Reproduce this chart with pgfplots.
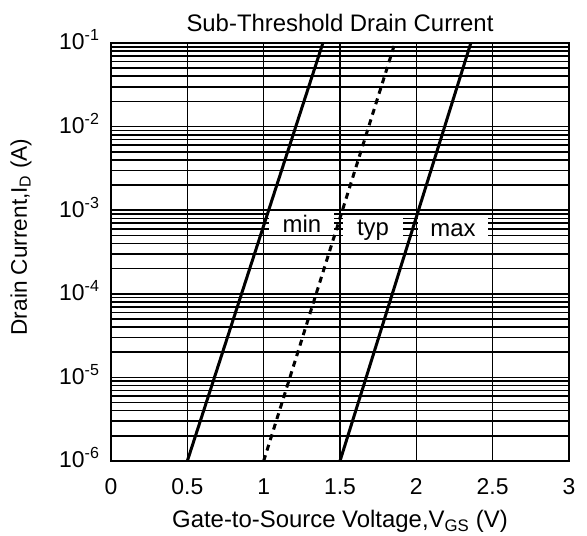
\documentclass[border=0pt]{standalone}
\usepackage{pgfplots}
\pgfplotsset{compat=1.18}
\usepackage{fontspec}
\setmainfont{Liberation Sans}
\newcommand{\tl}[1]{{\fontsize{23}{26}\selectfont #1}}
\begin{document}
\begin{tikzpicture}
\useasboundingbox (-111bp,-75bp) rectangle (476bp,461bp);
\begin{axis}[
  at={(0,0)}, anchor=south west,
  scale only axis, width=458bp, height=418bp,
  xmin=0, xmax=3, ymode=log, ymin=1e-6, ymax=1e-1,
  /pgf/number format/assume math mode=true,
  xtick={0,0.5,1,1.5,2,2.5,3},
  xticklabels={\tl{0},\tl{0.5},\tl{1},\tl{1.5},\tl{2},\tl{2.5},\tl{3}},
  ytick={1e-6,1e-5,1e-4,1e-3,1e-2,1e-1},
  yticklabels={\tl{10\textsuperscript{-6}},\tl{10\textsuperscript{-5}},\tl{10\textsuperscript{-4}},\tl{10\textsuperscript{-3}},\tl{10\textsuperscript{-2}},\tl{10\textsuperscript{-1}}},
  minor ytick={2e-6,3e-6,4e-6,5e-6,6e-6,7e-6,8e-6,9e-6,2e-5,3e-5,4e-5,5e-5,6e-5,7e-5,8e-5,9e-5,2e-4,3e-4,4e-4,5e-4,6e-4,7e-4,8e-4,9e-4,2e-3,3e-3,4e-3,5e-3,6e-3,7e-3,8e-3,9e-3,2e-2,3e-2,4e-2,5e-2,6e-2,7e-2,8e-2,9e-2},
  xmajorgrids, ymajorgrids, yminorgrids,
  major grid style={black, line width=1.6bp},
  minor grid style={black, line width=1.6bp},
  axis line style={black, line width=1.6bp},
  major tick length=0pt, minor tick length=0pt,
  xticklabel style={anchor=north, yshift=-14bp},
  yticklabel style={anchor=east, xshift=-8bp, yshift=3bp},
  title={Sub-Threshold Drain Current},
  title style={font=\fontsize{24}{28}\selectfont, anchor=south, at={(0.5,1)}, yshift=2bp},
  xlabel={Gate-to-Source Voltage,V\textsubscript{GS} (V)},
  ylabel={Drain Current,I\textsubscript{D} (A)},
  xlabel style={font=\fontsize{24}{28}\selectfont, at={(0.5,0)}, anchor=north, yshift=-46bp},
  ylabel style={font=\fontsize{22.7}{26}\selectfont, at={(0,0.5)}, anchor=south, xshift=15bp, yshift=76bp},
]
\node[fill=white, inner sep=0pt, minimum width=65bp, minimum height=23bp, font=\fontsize{24}{28}\selectfont] at (axis cs:1.251,6.93e-4) {min};
\node[fill=white, inner sep=0pt, minimum width=60bp, minimum height=25bp, font=\fontsize{24}{28}\selectfont] at (axis cs:1.716,5.7e-4) {typ};
\node[fill=white, inner sep=0pt, minimum width=70bp, minimum height=25bp, font=\fontsize{24}{28}\selectfont] at (axis cs:2.24,5.7e-4) {max};
\addplot[black, line width=3bp] coordinates {(0.5,1e-6) (1.388,1e-1)};
\addplot[black, line width=3bp, dash pattern=on 6bp off 5bp] coordinates {(1.0,1e-6) (1.86,1e-1)};
\addplot[black, line width=3bp] coordinates {(1.5,1e-6) (2.357,1e-1)};
\end{axis}
\end{tikzpicture}
\end{document}
